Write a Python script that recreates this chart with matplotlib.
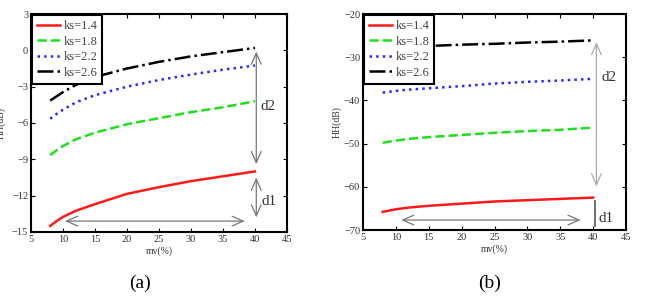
import numpy as np
import matplotlib
matplotlib.use('Agg')
import matplotlib.pyplot as plt

plt.rcParams['font.family'] = ['Liberation Serif', 'DejaVu Serif']

# data
mv = [8, 9, 10, 12, 15, 20, 25, 30, 35, 40]
labels = ['ks=1.4', 'ks=1.8', 'ks=2.2', 'ks=2.6']

# panel (a)
a_ks14 = [-14.5, -14.1, -13.75, -13.25, -12.7, -11.85, -11.3, -10.8, -10.4, -10.0]
a_ks18 = [-8.65, -8.25, -7.9, -7.35, -6.8, -6.1, -5.6, -5.1, -4.7, -4.2]
a_ks22 = [-5.65, -5.25, -4.9, -4.3, -3.7, -3.0, -2.45, -2.0, -1.6, -1.25]
a_ks26 = [-4.15, -3.8, -3.45, -2.85, -2.2, -1.5, -0.95, -0.5, -0.15, 0.2]

# panel (b)
b_ks14 = [-65.8, -65.5, -65.2, -64.8, -64.4, -63.9, -63.4, -63.1, -62.8, -62.5]
b_ks18 = [-49.8, -49.55, -49.3, -48.9, -48.5, -48.0, -47.5, -47.1, -46.8, -46.3]
b_ks22 = [-38.2, -38.0, -37.8, -37.5, -37.2, -36.7, -36.1, -35.7, -35.4, -35.0]
b_ks26 = [-27.9, -27.8, -27.7, -27.55, -27.4, -27.1, -26.9, -26.6, -26.4, -26.1]

colors = ['#ff1a1a', '#1ee01e', '#2a2aff', 'black']
styles = ['-', '--', ':', '-.']

fig = plt.figure(figsize=(6.48, 3.06), dpi=100)
W, H = 648, 306
axa = fig.add_axes([31 / W, 1 - 232 / H, 256 / W, 218 / H])
axb = fig.add_axes([363 / W, 1 - 230 / H, 263 / W, 216 / H])

for ax, series in [(axa, [a_ks14, a_ks18, a_ks22, a_ks26]),
                   (axb, [b_ks14, b_ks18, b_ks22, b_ks26])]:
    for s, c, ls, lab in zip(series, colors, styles, labels):
        ax.plot(mv, s, color=c, linestyle=ls, lw=1.8, label=lab)
    ax.set_xlim(5, 45)
    ax.set_xticks(range(5, 50, 5))
    ax.tick_params(direction='in', top=True, right=True, labelsize=7.5,
                   labelcolor='#333333', length=3, width=0.8, pad=2)
    for sp in ax.spines.values():
        sp.set_linewidth(1.5)
    ax.set_xlabel('mv(%)', fontsize=7, color='#333333', labelpad=2)
    leg = ax.legend(loc='upper left', fontsize=9, frameon=True, fancybox=False,
                    borderaxespad=0.1, handlelength=1.8, labelspacing=0.28,
                    handletextpad=0.3, borderpad=0.4, framealpha=1)
    leg.get_frame().set_edgecolor('black')
    leg.get_frame().set_linewidth(1.5)
    for t in leg.get_texts():
        t.set_color('#444444')

axa.set_ylim(-15, 3)
axa.set_yticks(range(-15, 4, 3))
axa.set_ylabel('HH(dB)', fontsize=7, color='#333333')
axa.yaxis.set_label_coords(-0.097, 0.5)

axb.set_ylim(-70, -20)
axb.set_yticks(range(-70, -19, 10))
axb.set_ylabel('HH(dB)', fontsize=7, color='#333333', labelpad=2)

arr = dict(arrowstyle='<->,head_length=0.8,head_width=0.35', color='#777777', lw=0.9,
           shrinkA=0, shrinkB=0)
arr2 = dict(arr, color='#aaaaaa')

# panel (a) annotations
axa.annotate('', xy=(40.2, -0.1), xytext=(40.2, -9.4), arrowprops=arr, annotation_clip=False)
axa.text(40.9, -4.6, 'd2', fontsize=11, va='center', color='#333333')
axa.annotate('', xy=(40.2, -10.5), xytext=(40.2, -13.8), arrowprops=arr, annotation_clip=False)
axa.text(41.0, -12.5, 'd1', fontsize=11, va='center', color='#333333')
axa.annotate('', xy=(10.3, -14.1), xytext=(38.4, -14.1), arrowprops=arr)

# panel (b) annotations
axb.annotate('', xy=(40.5, -26.5), xytext=(40.5, -59.9), arrowprops=arr2, annotation_clip=False)
axb.text(41.3, -34.7, 'd2', fontsize=11, va='center', color='#333333')
axb.plot([40.3, 40.3], [-63.3, -69.0], color='#555555', lw=1.2)
axb.text(40.8, -67.4, 'd1', fontsize=11, va='center', color='#333333')
axb.annotate('', xy=(10.8, -67.7), xytext=(38.1, -67.7), arrowprops=arr)

fig.text(140 / W, 1 - 283 / H, '(a)', fontsize=14, ha='center', va='center')
fig.text(490 / W, 1 - 283 / H, '(b)', fontsize=14, ha='center', va='center')

fig.savefig('out.png', dpi=100)
